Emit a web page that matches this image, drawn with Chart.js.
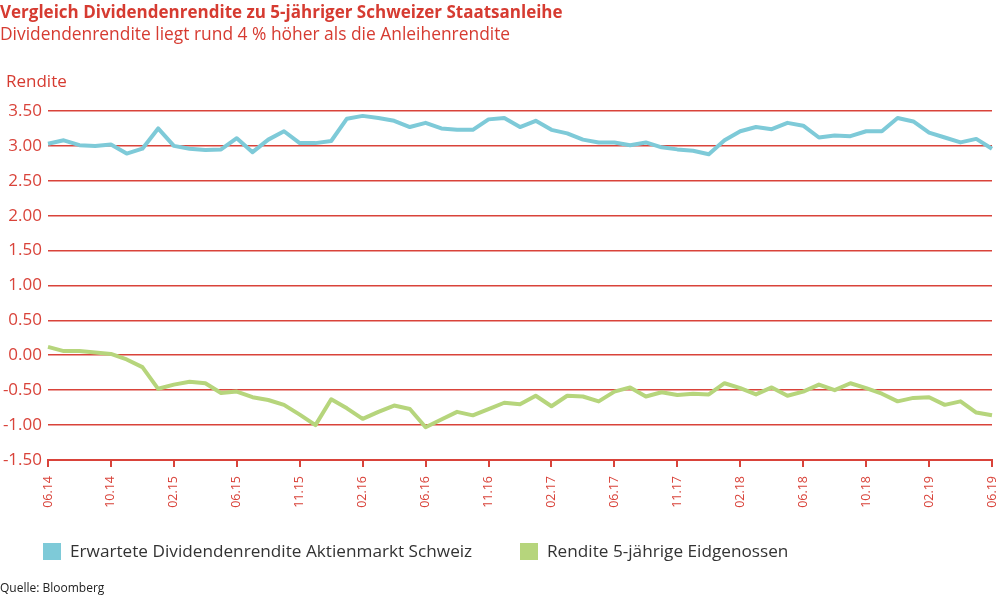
<!DOCTYPE html>
<html>
<head>
<meta charset="utf-8">
<script src="https://cdn.jsdelivr.net/npm/chart.js@4"></script>
<style>
  html, body { margin: 0; padding: 0; background: #fff; }
  body { width: 999px; height: 597px; position: relative; overflow: hidden; font-family: 'Open Sans', sans-serif; }
  .wrap { position: absolute; left: 0; top: 0; width: 999px; height: 597px; }
  .title { position: absolute; left: 0; top: 0; font-size: 17px; font-weight: 700; color: #d63b31; white-space: nowrap; }
  .subtitle { position: absolute; left: 0; top: 21px; font-size: 17.4px; color: #d63b31; white-space: nowrap; }
  .unit { position: absolute; left: 6px; top: 69px; font-size: 17px; color: #d63b31; }
  .box { position: absolute; top: 543px; width: 18px; height: 17px; }
  .leg { position: absolute; top: 539px; font-size: 17.2px; color: #333; white-space: nowrap; }
  .source { position: absolute; left: 0; top: 579px; font-size: 12px; color: #222; }
</style>
</head>
<body>
<div class="wrap"><canvas id="chartRendite" width="999" height="597"></canvas></div>
<div class="title">Vergleich Dividendenrendite zu 5-jähriger Schweizer Staatsanleihe</div>
<div class="subtitle">Dividendenrendite liegt rund 4 % höher als die Anleihenrendite</div>
<div class="unit">Rendite</div>
<div class="box" style="left:43px; background:#7ecad8"></div>
<div class="leg" style="left:70px">Erwartete Dividendenrendite Aktienmarkt Schweiz</div>
<div class="box" style="left:520px; background:#b6d57c"></div>
<div class="leg" style="left:547px">Rendite 5-jährige Eidgenossen</div>
<div class="source">Quelle: Bloomberg</div>
<script>
// ===== DATEN =====
const tickLabels = ['06.14', '10.14', '02.15', '06.15', '11.15', '02.16', '06.16', '11.16',
                    '02.17', '06.17', '11.17', '02.18', '06.18', '10.18', '02.19', '06.19'];

const dividende = [
  3.03, 3.08, 3.01, 3.00, 3.02, 2.89, 2.96, 3.25, 3.00, 2.96,
  2.94, 2.95, 3.11, 2.91, 3.09, 3.21, 3.04, 3.04, 3.07, 3.39,
  3.43, 3.40, 3.36, 3.27, 3.33, 3.25, 3.23, 3.23, 3.38, 3.40,
  3.27, 3.36, 3.23, 3.18, 3.09, 3.05, 3.05, 3.01, 3.05, 2.98,
  2.95, 2.93, 2.88, 3.08, 3.21, 3.27, 3.24, 3.33, 3.29, 3.12,
  3.15, 3.14, 3.21, 3.21, 3.40, 3.35, 3.19, 3.12, 3.05, 3.10, 2.96
];

const eidgenossen = [
  0.12, 0.06, 0.06, 0.04, 0.02, -0.06, -0.17, -0.48, -0.42, -0.38,
  -0.40, -0.54, -0.52, -0.60, -0.64, -0.71, -0.85, -1.00, -0.63, -0.76,
  -0.91, -0.81, -0.72, -0.77, -1.03, -0.92, -0.81, -0.86, -0.77, -0.68,
  -0.70, -0.58, -0.73, -0.58, -0.59, -0.66, -0.52, -0.46, -0.59, -0.53,
  -0.57, -0.55, -0.56, -0.40, -0.47, -0.56, -0.46, -0.58, -0.52, -0.42,
  -0.50, -0.40, -0.47, -0.55, -0.66, -0.61, -0.60, -0.71, -0.66, -0.82, -0.86
];

// ein Punkt pro Monat, Beschriftung alle 4 Punkte
const categories = dividende.map((_, i) => i);

const RED = '#d9433a';

function initChart() {
  const ctx = document.getElementById('chartRendite').getContext('2d');

  new Chart(ctx, {
    type: 'line',
    data: {
      labels: categories,
      datasets: [
        { label: 'Erwartete Dividendenrendite Aktienmarkt Schweiz', data: dividende,
          borderColor: '#7ecad8', borderWidth: 4, pointRadius: 0, tension: 0, borderJoinStyle: 'round' },
        { label: 'Rendite 5-jährige Eidgenossen', data: eidgenossen,
          borderColor: '#b6d57c', borderWidth: 4, pointRadius: 0, tension: 0, borderJoinStyle: 'round' }
      ]
    },
    options: {
      responsive: false,
      animation: false,
      layout: { padding: { top: 111, right: 7, left: 0, bottom: 0 } },
      plugins: { legend: { display: false }, tooltip: { enabled: false } },
      scales: {
        y: {
          min: -1.5, max: 3.5,
          afterFit: s => { s.width = 48; s.paddingTop = 0; s.paddingBottom = 0; },
          border: { display: false },
          grid: { color: RED, lineWidth: 1.6, drawTicks: false },
          ticks: { stepSize: 0.5, color: RED, padding: 6,
            font: { family: 'Open Sans', size: 17 },
            callback: v => v.toFixed(2) }
        },
        x: {
          afterFit: s => { s.height = 137; s.paddingLeft = 0; s.paddingRight = 0; },
          offset: false,
          border: { display: true, color: RED, width: 2 },
          grid: { drawOnChartArea: false, drawTicks: true, tickLength: 7, lineWidth: 2,
            color: c => (c.index % 4 === 0 ? RED : 'rgba(0,0,0,0)') },
          ticks: { autoSkip: false, maxRotation: 90, minRotation: 90, color: RED, padding: 9,
            font: { family: 'Open Sans', size: 12.5 },
            callback: (v, i) => (i % 4 === 0 ? tickLabels[i / 4] : '') }
        }
      }
    }
  });
}

document.addEventListener('DOMContentLoaded', initChart);
</script>
</body>
</html>
